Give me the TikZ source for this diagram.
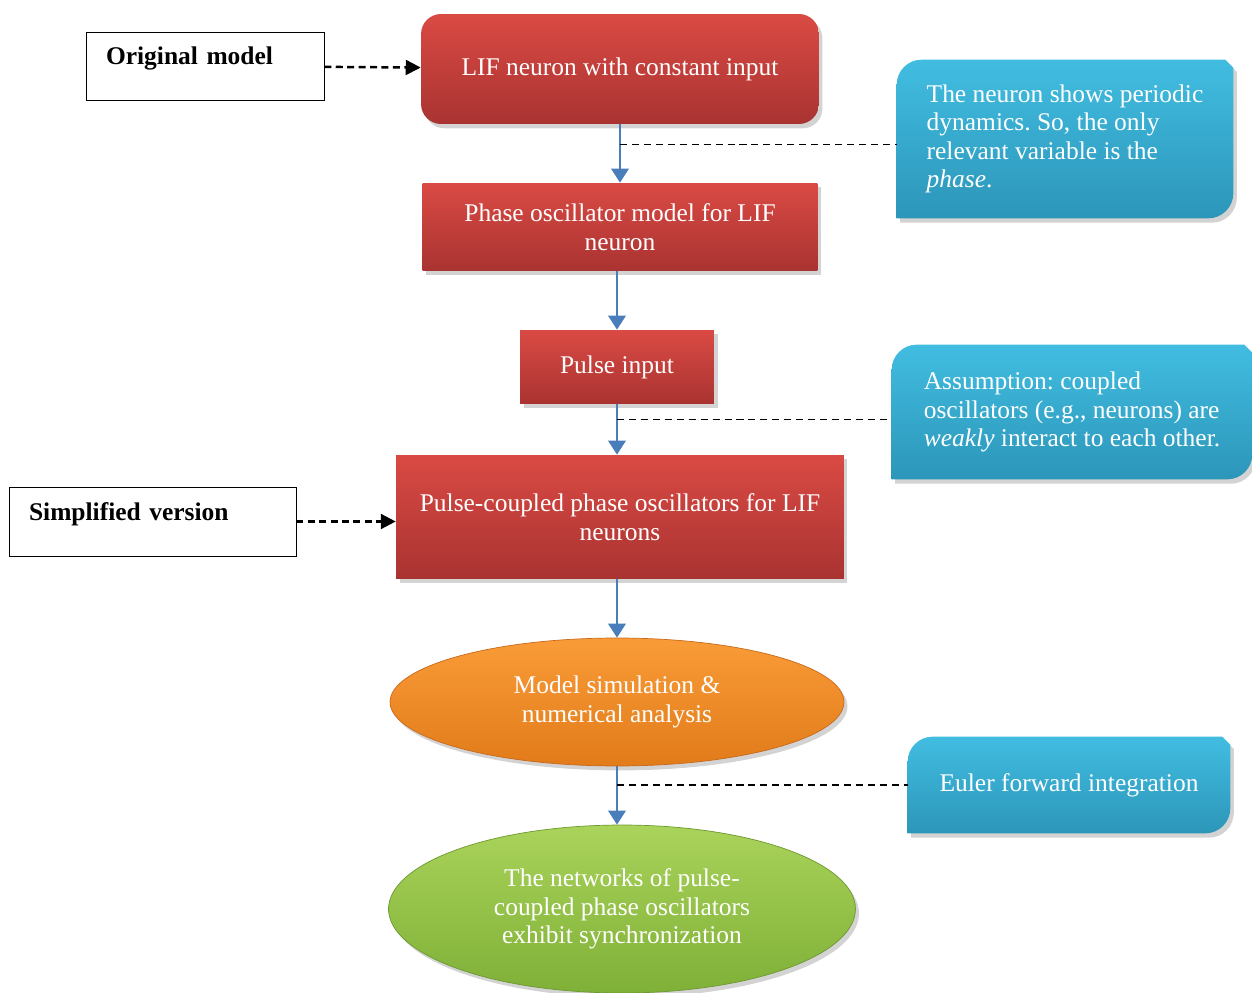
\documentclass[tikz,border=0pt]{standalone}
\usepackage{fontspec}
\setmainfont{Liberation Serif}
\frenchspacing
\usepackage{tikz}
\usetikzlibrary{positioning}
\usetikzlibrary{calc}
\usetikzlibrary{shapes, arrows.meta, shadows, backgrounds}
\definecolor{redtop}{HTML}{DA4A44}
\definecolor{redbot}{HTML}{A93331}
\definecolor{tealtop}{HTML}{41BDE1}
\definecolor{tealbot}{HTML}{2C96B9}
\definecolor{orangetop}{HTML}{F99C38}
\definecolor{orangebot}{HTML}{E27B1A}
\definecolor{orangerim}{HTML}{C8691B}
\definecolor{greentop}{HTML}{AAD35B}
\definecolor{greenbot}{HTML}{7FB037}
\definecolor{greenrim}{HTML}{6C9830}
\definecolor{flowblue}{HTML}{4A7EBB}
\tikzset{
	every node/.style={align=center, inner sep=0pt, font=\fontsize{14.5}{16.2}\selectfont},
	softshadow/.style={drop shadow={opacity=0.35, shadow xshift=2pt, shadow yshift=-2.5pt}},
	step box/.style={rectangle, text=white, top color=redtop, bottom color=redbot, softshadow},
	result/.style={ellipse, text=white, softshadow},
	note/.style={rectangle, text=white, align=left},
	tag/.style={rectangle, draw, thin, align=left, font=\fontsize{14.5}{16.2}\selectfont\bfseries},
	flow/.style={-{Triangle[width=10pt,length=8pt]}, draw=flowblue, line width=1.1pt},
	lead/.style={-{Triangle[width=8.5pt,length=8.5pt]}, dash pattern=on 4pt off 2.5pt, line width=1.4pt},
	link/.style={dash pattern=on 4pt off 2.8pt, line width=0.75pt}
}
% note boxes: round top left and bottom right corners, cut top right
\newcommand{\noteshape}[1]{
	\path[top color=tealtop, bottom color=tealbot, softshadow]
		(#1.south west) -- ([yshift=-0.5cm]#1.north west)
		arc[start angle=180, end angle=90, radius=0.5cm]
		-- ([xshift=-0.16cm]#1.north east) -- ([yshift=-0.16cm]#1.north east)
		-- ([yshift=0.5cm]#1.south east)
		arc[start angle=0, end angle=-90, radius=0.5cm] -- cycle;
}

\begin{document}
\begin{tikzpicture}[x=0.02cm, y=-0.02cm]
	\useasboundingbox (0,0) rectangle (1252,993);

	% main chain
	\node[step box, rounded corners=0.4cm, minimum width=7.96cm, minimum height=2.2cm] (lif) at (620,69) {LIF neuron with constant input};
	\node[step box, minimum width=7.9cm, minimum height=1.76cm] (phase) at (620,227) {Phase oscillator model for LIF\\neuron};
	\node[step box, minimum width=3.88cm, minimum height=1.48cm] (pulse) at (617,367) {Pulse input};
	\node[step box, minimum width=8.96cm, minimum height=2.48cm] (coupled) at (620,517) {Pulse-coupled phase oscillators for LIF\\neurons};
	\node[result, top color=orangetop, bottom color=orangebot, draw=orangerim, minimum width=9.08cm, minimum height=2.56cm] (sim) at (617,702) {Model simulation \&\\numerical analysis};
	\node[result, top color=greentop, bottom color=greenbot, draw=greenrim, minimum width=9.34cm, minimum height=3.36cm] (sync) at (622,909) {The networks of pulse-\\coupled phase oscillators\\exhibit synchronization};

	% side notes
	\node[note, minimum width=6.72cm, minimum height=3.16cm] (periodic) at (1065,139) {The neuron shows periodic\\dynamics. So, the only\\relevant variable is the\\\textit{phase}.};
	\node[note, minimum width=7.2cm, minimum height=2.68cm] (weak) at (1072,412) {Assumption: coupled\\oscillators (e.g., neurons) are\\\textit{weakly} interact to each other.};
	\node[note, minimum width=6.44cm, minimum height=1.92cm, align=center] (euler) at (1069,785) {Euler forward integration};
	\begin{scope}[on background layer]
		\noteshape{periodic}
		\noteshape{weak}
		\noteshape{euler}
	\end{scope}

	% labels on the left
	\node[tag, minimum width=4.76cm, minimum height=1.36cm, text width=3.96cm, text height=0.5cm, text depth=0.54cm] (orig) at (205,66) {Original model};
	\node[tag, minimum width=5.74cm, minimum height=1.38cm, text width=4.94cm, text height=0.5cm, text depth=0.56cm] (simpl) at (152.5,521.5) {Simplified version};

	\draw[flow] (lif) -- (phase);
	\draw[flow] (phase.south -| pulse) -- (pulse);
	\draw[flow] (pulse) -- (pulse |- coupled.north);
	\draw[flow] (coupled.south -| sim) -- (sim);
	\draw[flow] (sim) -- (sim |- sync.north);

	\draw[link] ($(lif.south)!0.35!(phase.north)$) coordinate (p1) -- (p1 -| periodic.west);
	\draw[link] ($(pulse.south)!0.3!(pulse |- coupled.north)$) coordinate (p2) -- (p2 -| weak.west);
	\draw[link] ($(sim.south)!0.32!(sim |- sync.north)$) coordinate (p3) -- (p3 -| euler.west);

	\draw[lead] (orig) -- (lif);
	\draw[lead] (simpl.east) -- (simpl.east -| coupled.west);
\end{tikzpicture}
\end{document}
